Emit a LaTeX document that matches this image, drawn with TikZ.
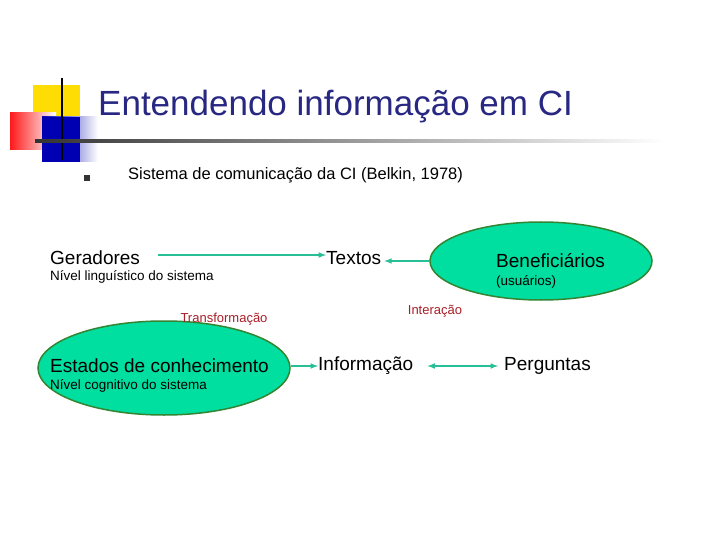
\documentclass[tikz,border=0pt]{standalone}
\usepackage{fontspec}
\usetikzlibrary{shapes.geometric}
\setmainfont{Liberation Sans}
\begin{document}
\begin{tikzpicture}[x=1pt,y=-1pt,
  ell/.style={ellipse,draw=green!40!black!80,line width=1.5pt,fill=teal0},
  arr/.style={draw=arrc,line width=1.5pt,-latex},
  big/.style={font=\fontsize{19}{22}\selectfont,inner sep=0pt},
  small/.style={font=\fontsize{13.5}{16}\selectfont,inner sep=0pt},
  redl/.style={font=\fontsize{13}{15}\selectfont,text=redc,inner sep=0pt}]
\definecolor{teal0}{RGB}{0,222,160}
\definecolor{arrc}{RGB}{40,190,150}
\definecolor{redc}{RGB}{170,30,40}
\definecolor{titc}{RGB}{40,40,130}
\useasboundingbox (0,0) rectangle (720,540);
\fill[white] (0,0) rectangle (720,540);
% logo
\fill[yellow!80!orange] (33,85) rectangle (80,130);
\shade[left color=red!90, right color=white] (10,113) rectangle (56,150);
\shade[left color=blue!70!black, right color=white] (42,117) rectangle (98,162);
\fill[blue!70!black] (42,117) rectangle (80,162);
\draw[line width=2pt] (62,78) -- (62,160);
\shade[left color=black!80,right color=white] (35,140) rectangle (665,142.5);
\node[anchor=west,text=titc,font=\fontsize{35}{40}\selectfont,inner sep=0pt] (title) at (98,107) {Entendendo informação em CI};
\fill[black!80] (84,175) rectangle (90,181);
\node[anchor=west,font=\fontsize{16.5}{20}\selectfont,inner sep=0pt] (bul) at (128,175) {Sistema de comunicação da CI (Belkin, 1978)};
% ellipses
\node[ell,minimum width=222pt,minimum height=78pt] (ben) at (541,261) {};
\node[ell,minimum width=252pt,minimum height=94pt] (est) at (164,368) {};
\node[big,anchor=west] (ger) at (50,258) {Geradores};
\node[big,anchor=west] (tex) at (326,258) {Textos};
\node[big,anchor=west] (benT) at (496,261) {Beneficiários};
\node[small,anchor=west] (nl) at (50,277) {Nível linguístico do sistema};
\node[small,anchor=west] (us) at (496,282) {(usuários)};
\node[redl] (tr) at (224,319) {Transformação};
\node[redl] (int) at (435,311) {Interação};
\node[big,anchor=west] (estT) at (50,366) {Estados de conhecimento};
\node[small,anchor=west] (nc) at (50,386) {Nível cognitivo do sistema};
\node[big,anchor=west] (inf) at (318,366) {Informação};
\node[big,anchor=west] (per) at (504,366) {Perguntas};
\coordinate (g1) at (158,255);
\draw[arr] (g1) -- (tex.west |- g1);
\draw[arr] (ben.west) -- ([xshift=3pt]tex.east |- ben.west);
\draw[arr] (est.east |- inf.west) -- (inf.west);
\draw[draw=arrc,line width=1.5pt,latex-latex] ([xshift=14pt]inf.east) -- ([xshift=-6pt]per.west);
\end{tikzpicture}
\end{document}
